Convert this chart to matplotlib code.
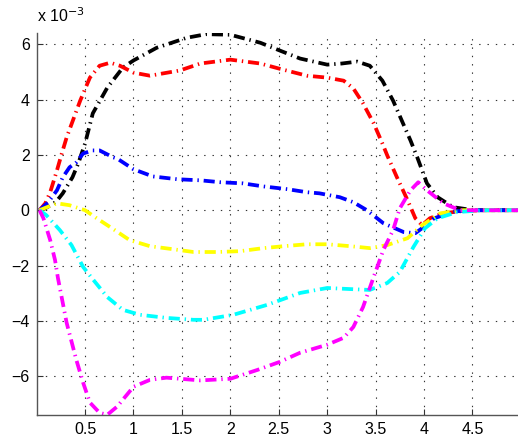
import matplotlib
matplotlib.use("Agg")
import matplotlib.pyplot as plt

# values in units of 1e-3
x_black = [0.03, 0.09, 0.2, 0.27, 0.37, 0.43, 0.5, 0.58, 0.73, 0.89, 1.0, 1.24, 1.55, 1.75, 2.0, 2.31, 2.51,
           2.72, 3.0, 3.15, 3.31, 3.44, 3.57, 3.68, 3.86, 3.93, 4.03, 4.14, 4.30, 4.51, 5.0]
y_black = [0, 0.07, 0.3, 0.61, 1.19, 1.69, 2.41, 3.5, 4.43, 5.15, 5.41, 5.87, 6.23, 6.36, 6.34, 6.05, 5.77,
           5.48, 5.26, 5.30, 5.37, 5.22, 4.68, 3.96, 2.52, 1.91, 0.97, 0.47, 0.11, 0.0, 0.0]

x_red = [0.03, 0.09, 0.14, 0.21, 0.26, 0.31, 0.45, 0.55, 0.65, 0.76, 0.86, 1.0, 1.17, 1.48, 1.69, 2.0, 2.31,
         2.51, 2.79, 3.0, 3.17, 3.27, 3.37, 3.48, 3.57, 3.62, 3.72, 3.83, 3.91, 3.98, 4.06, 4.20, 4.37, 4.6, 5.0]
y_red = [0, 0.25, 0.65, 1.44, 2.05, 2.63, 3.96, 4.79, 5.22, 5.33, 5.22, 4.97, 4.86, 5.05, 5.30, 5.44, 5.30,
         5.11, 4.86, 4.79, 4.68, 4.40, 3.86, 3.14, 2.41, 1.98, 1.19, 0.36, -0.29, -0.54, -0.29, -0.11, -0.04, 0, 0]

x_blue = [0.03, 0.12, 0.21, 0.27, 0.34, 0.41, 0.48, 0.58, 0.65, 0.79, 0.83, 1.0, 1.2, 1.45, 1.69, 1.9, 2.13,
          2.34, 2.59, 2.79, 2.92, 3.13, 3.27, 3.41, 3.58, 3.79, 3.91, 3.98, 4.1, 4.3, 4.5, 5.0]
y_blue = [0, 0.29, 0.72, 1.19, 1.55, 1.73, 2.05, 2.16, 2.16, 1.91, 1.87, 1.48, 1.22, 1.12, 1.08, 1.01, 0.97,
          0.86, 0.76, 0.65, 0.61, 0.47, 0.29, 0.0, -0.47, -0.79, -0.83, -0.65, -0.3, -0.05, 0, 0]

x_yellow = [0.03, 0.1, 0.21, 0.34, 0.5, 0.62, 0.79, 0.96, 1.17, 1.41, 1.62, 1.86, 2.1, 2.34, 2.55, 2.79, 3.0,
            3.24, 3.44, 3.62, 3.83, 3.98, 4.17, 4.4, 5.0]
y_yellow = [0, 0.1, 0.25, 0.18, 0, -0.29, -0.68, -1.08, -1.30, -1.41, -1.51, -1.51, -1.48, -1.37, -1.30, -1.23,
            -1.23, -1.30, -1.37, -1.26, -1.01, -0.54, -0.11, 0, 0]

x_cyan = [0.03, 0.1, 0.24, 0.36, 0.48, 0.57, 0.73, 0.89, 1.07, 1.34, 1.62, 1.72, 2.03, 2.38, 2.72, 3.0, 3.24,
          3.44, 3.62, 3.75, 3.89, 4.01, 4.14, 4.34, 4.6, 5.0]
y_cyan = [0, -0.18, -0.72, -1.26, -2.05, -2.45, -3.14, -3.60, -3.78, -3.89, -3.96, -3.96, -3.78, -3.42, -2.99,
          -2.81, -2.85, -2.88, -2.63, -2.23, -1.33, -0.65, -0.29, -0.07, 0, 0]

x_magenta = [0.03, 0.07, 0.14, 0.19, 0.22, 0.31, 0.41, 0.48, 0.55, 0.65, 0.73, 0.83, 1.0, 1.17, 1.34, 1.69,
             2.0, 2.28, 2.51, 2.72, 3.0, 3.17, 3.27, 3.37, 3.48, 3.58, 3.68, 3.75, 3.86, 3.94, 4.03, 4.20,
             4.37, 5.0]
y_magenta = [0, -0.29, -1.08, -1.80, -2.45, -4.07, -5.41, -6.23, -6.95, -7.32, -7.39, -7.10, -6.38, -6.13,
             -6.05, -6.15, -6.09, -5.77, -5.48, -5.15, -4.86, -4.61, -4.22, -3.50, -2.41, -1.44, -0.72, 0.07,
             0.72, 1.01, 0.72, 0.25, 0, 0]

xticks = [0.5, 1, 1.5, 2, 2.5, 3, 3.5, 4, 4.5]
yticks = [-6, -4, -2, 0, 2, 4, 6]

plt.rcParams['font.family'] = ['Liberation Sans', 'DejaVu Sans']
plt.rcParams['lines.scale_dashes'] = False

fig = plt.figure(figsize=(5.18, 4.37), dpi=100)
ax = fig.add_axes([0.0707, 0.0503, 0.9293, 0.874])

dash = (0, (8, 3.5, 1, 3.5))
series = [(x_black, y_black, 'k'), (x_red, y_red, 'r'), (x_blue, y_blue, 'b'),
          (x_yellow, y_yellow, '#ffff00'), (x_cyan, y_cyan, '#00ffff'), (x_magenta, y_magenta, '#ff00ff')]
for xs, ys, c in series:
    ax.plot(xs, ys, color=c, linestyle=dash, linewidth=2.7)

ax.set_xlim(0, 4.97)
ax.set_ylim(-7.4, 6.4)
ax.set_xticks(xticks)
ax.set_xticklabels([f"{t:g}" for t in xticks])
ax.set_yticks(yticks)
ax.set_yticklabels([f"{t:g}".replace('-', '\u2212') for t in yticks])
ax.grid(True, color='#333333', linestyle=(0, (1, 5)), linewidth=0.8)
ax.set_axisbelow(True)
ax.tick_params(direction='in', length=4, labelsize=11.5, colors='#333333', labelcolor='black', pad=5)
for s in ['top', 'right']:
    ax.spines[s].set_visible(False)
for s in ['left', 'bottom']:
    ax.spines[s].set_color('#555555')
    ax.spines[s].set_linewidth(1.0)

ax.text(0.0, 1.02, r'x 10$^{-3}$', transform=ax.transAxes, fontsize=11.5, ha='left', va='bottom')

fig.savefig('out.png', dpi=100)
